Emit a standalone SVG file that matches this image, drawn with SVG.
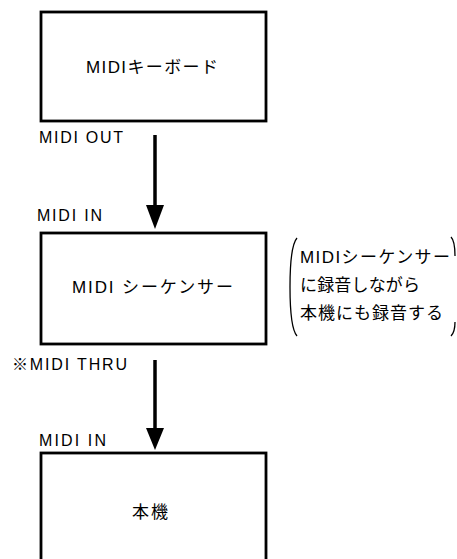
<svg xmlns="http://www.w3.org/2000/svg" width="457" height="559" viewBox="0 0 457 559">
<defs>
<style>
.box{fill:#fff;stroke:#000;stroke-width:2.8}
.t{font-family:"Liberation Sans","Noto Sans CJK JP",sans-serif;fill:#000}
.lbl{font-size:16px}
.main{font-size:17px}
.note{font-size:17px}
.shaft{stroke:#000;stroke-width:3.5;fill:none}
.head{fill:#000}
.paren{stroke:#000;stroke-width:1.3;fill:none}
</style>
</defs>
<rect width="457" height="559" fill="#fff"/>
<g id="keyboard">
<rect class="box" x="41" y="12" width="225" height="109"/>
<text class="t main" x="86" y="73" textLength="132" lengthAdjust="spacing">MIDIキーボード</text>
</g>
<g id="sequencer">
<rect class="box" x="41" y="233" width="225" height="111"/>
<text class="t main" x="72" y="293" textLength="161" lengthAdjust="spacing">MIDI シーケンサー</text>
</g>
<g id="unit">
<rect class="box" x="41" y="453" width="225" height="130"/>
<text class="t main" x="132" y="518" textLength="36" lengthAdjust="spacing">本機</text>
</g>
<g id="note">
<path class="paren" d="M297,238 Q290,246 290,287 Q290,328 297,336"/>
<path class="paren" d="M451,237 Q455,241 455,256"/>
<path class="paren" d="M455,322 Q455,332 451,336"/>
<text class="t note" x="300" y="263" textLength="150" lengthAdjust="spacing">MIDIシーケンサー</text>
<text class="t note" x="300" y="291" textLength="120" lengthAdjust="spacing">に録音しながら</text>
<text class="t note" x="300" y="319" textLength="143" lengthAdjust="spacing">本機にも録音する</text>
</g>
<g id="labels">
<text class="t lbl" x="39" y="143" textLength="84" lengthAdjust="spacing">MIDI  OUT</text>
<text class="t lbl" x="37" y="221" textLength="65" lengthAdjust="spacing">MIDI  IN</text>
<text class="t lbl" x="12" y="370" textLength="115" lengthAdjust="spacing">※MIDI  THRU</text>
<text class="t lbl" x="39" y="446" textLength="67" lengthAdjust="spacing">MIDI  IN</text>
</g>
<g id="connectors">
<line class="shaft" x1="155" y1="135" x2="155" y2="210"/>
<polygon class="head" points="146,205 164,205 155,229"/>
<line class="shaft" x1="155" y1="360" x2="155" y2="432"/>
<polygon class="head" points="146,428 164,428 155,450"/>
</g>
</svg>
